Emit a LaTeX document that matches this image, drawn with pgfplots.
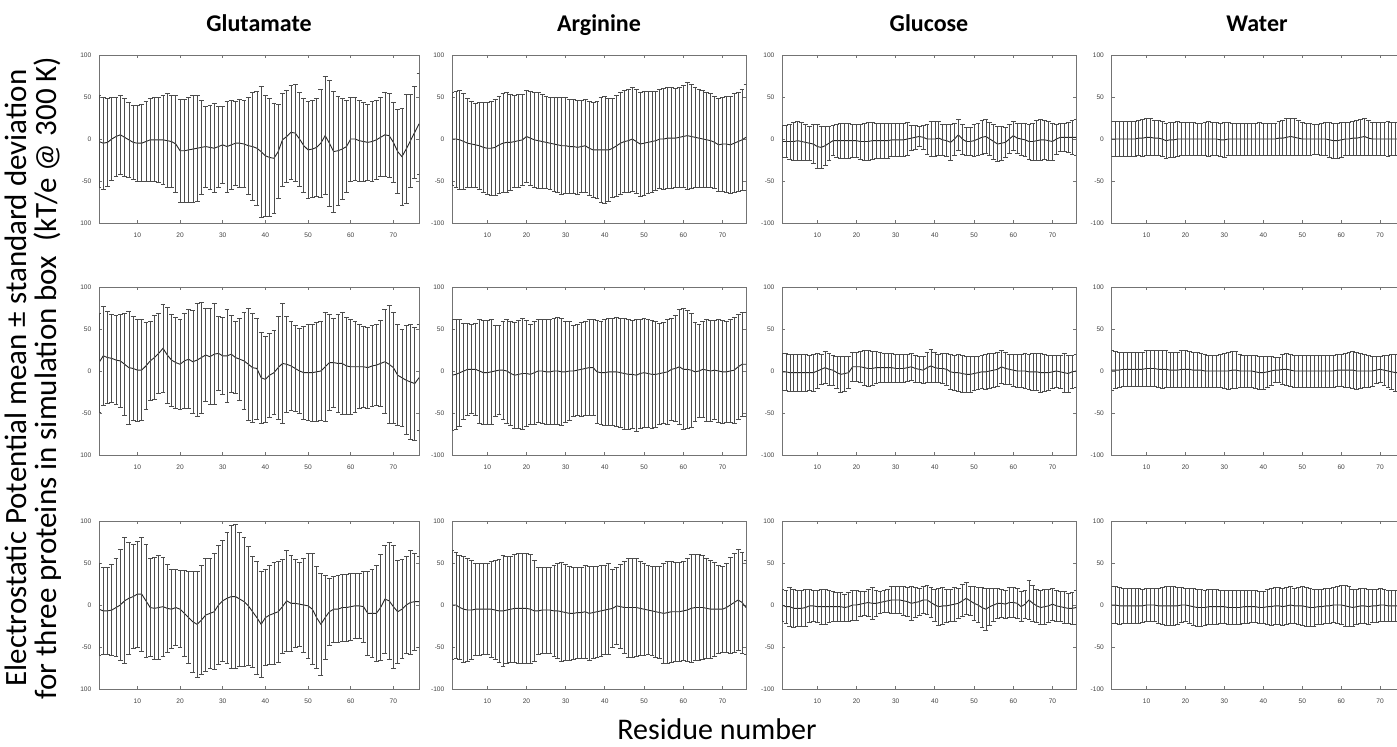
\documentclass[border=0pt]{standalone}
\usepackage{pgfplots}
\pgfplotsset{compat=1.18}
\usepackage{pgfplotstable}
\usepackage{fontspec}
\setmainfont{Carlito}
\newfontfamily\tickfont{Liberation Sans}

\pgfplotstableread[row sep=\\]{x m s\\
1 -3 55\\2 -5 55\\3 -4 52\\4 0 49\\5 3 47\\6 5 47\\7 2 46\\8 -1 45\\9 -4 44\\10 -5 45\\
11 -5 46\\12 -3 48\\13 -1 49\\14 -1 50\\15 -1 51\\16 -1 53\\17 -2 56\\18 -3 55\\19 -6 58\\20 -14 61\\
21 -14 61\\22 -13 62\\23 -12 64\\24 -11 63\\25 -10 56\\26 -9 48\\27 -10 50\\28 -11 53\\29 -9 48\\30 -7 46\\
31 -9 54\\32 -7 53\\33 -5 50\\34 -5 52\\35 -6 52\\36 -8 58\\37 -9 64\\38 -11 68\\39 -15 78\\40 -20 72\\
41 -22 70\\42 -23 65\\43 -15 56\\44 -1 55\\45 3 55\\46 8 56\\47 7 58\\48 0 56\\49 -8 56\\50 -13 58\\
51 -12 58\\52 -10 58\\53 -5 64\\54 4 70\\55 -5 75\\56 -15 72\\57 -14 65\\58 -12 60\\59 -9 55\\60 0 50\\
61 0 49\\62 -2 48\\63 -3 47\\64 -4 45\\65 -3 48\\66 -1 47\\67 2 47\\68 5 50\\69 4 50\\70 -4 48\\
71 -15 50\\72 -21 58\\73 -12 65\\74 -2 55\\75 8 55\\76 18 60\\
}\GA
\pgfplotstableread[row sep=\\]{x m s\\
1 0 55\\2 0 57\\3 -1 59\\4 -3 57\\5 -5 53\\6 -6 51\\7 -7 50\\8 -8 52\\9 -10 54\\10 -11 55\\
11 -11 56\\12 -10 57\\13 -7 58\\14 -5 59\\15 -4 59\\16 -4 57\\17 -3 55\\18 -2 55\\19 -1 54\\20 3 55\\
21 1 56\\22 -1 57\\23 -2 57\\24 -3 56\\25 -4 55\\26 -5 55\\27 -6 56\\28 -7 57\\29 -8 58\\30 -8 57\\
31 -9 56\\32 -9 56\\33 -10 56\\34 -9 55\\35 -8 55\\36 -11 56\\37 -13 57\\38 -13 58\\39 -13 62\\40 -13 64\\
41 -13 61\\42 -11 59\\43 -8 60\\44 -5 61\\45 -3 61\\46 -2 61\\47 0 62\\48 -3 62\\49 -6 62\\50 -5 62\\
51 -4 61\\52 -3 60\\53 -2 59\\54 0 59\\55 0 60\\56 1 60\\57 1 60\\58 1 59\\59 2 59\\60 3 61\\
61 4 64\\62 3 62\\63 2 60\\64 1 58\\65 0 58\\66 -1 57\\67 -2 56\\68 -4 55\\69 -7 55\\70 -6 56\\
71 -6 57\\72 -7 58\\73 -5 59\\74 -3 59\\75 -1 60\\76 2 63\\
}\AA
\pgfplotstableread[row sep=\\]{x m s\\
1 -3 19\\2 -3 19\\3 -3 21\\4 -3 23\\5 -2 23\\6 -3 23\\7 -4 21\\8 -5 20\\9 -6 23\\10 -9 26\\
11 -10 25\\12 -8 23\\13 -5 20\\14 -2 18\\15 -2 20\\16 -2 21\\17 -2 21\\18 -2 21\\19 -2 20\\20 -2 20\\
21 -3 21\\22 -3 22\\23 -3 23\\24 -2 22\\25 -2 21\\26 -2 21\\27 -2 21\\28 -2 21\\29 -1 20\\30 -1 20\\
31 -1 20\\32 -1 20\\33 0 20\\34 1 15\\35 2 14\\36 3 12\\37 2 14\\38 0 18\\39 0 21\\40 0 21\\
41 1 20\\42 -1 18\\43 -2 19\\44 -4 21\\45 0 19\\46 5 18\\47 0 18\\48 -3 17\\49 -3 17\\50 -2 19\\
51 0 19\\52 2 20\\53 3 20\\54 0 20\\55 -3 21\\56 -6 21\\57 -5 20\\58 -4 18\\59 0 17\\60 4 17\\
61 1 18\\62 0 19\\63 -1 20\\64 -3 21\\65 -3 22\\66 -2 24\\67 -1 24\\68 -1 23\\69 -2 23\\70 -3 22\\
71 0 18\\72 2 17\\73 2 17\\74 2 18\\75 2 20\\76 2 21\\
}\CA
\pgfplotstableread[row sep=\\]{x m s\\
1 0 21\\2 0 21\\3 0 21\\4 0 21\\5 0 21\\6 0 21\\7 0 21\\8 1 21\\9 1 22\\10 2 22\\
11 2 22\\12 1 21\\13 1 21\\14 0 21\\15 -2 21\\16 -1 21\\17 -1 21\\18 0 21\\19 0 20\\20 0 20\\
21 0 20\\22 0 20\\23 0 19\\24 0 19\\25 0 20\\26 0 21\\27 0 20\\28 0 20\\29 -1 20\\30 -1 21\\
31 0 20\\32 0 19\\33 0 19\\34 0 19\\35 0 19\\36 0 19\\37 0 19\\38 0 19\\39 0 20\\40 0 19\\
41 0 19\\42 0 19\\43 0 19\\44 1 20\\45 1 21\\46 2 22\\47 3 22\\48 2 22\\49 1 21\\50 0 20\\
51 0 19\\52 0 19\\53 0 18\\54 0 18\\55 0 19\\56 0 20\\57 -1 21\\58 -2 21\\59 -2 21\\60 -1 21\\
61 0 20\\62 0 20\\63 1 20\\64 1 21\\65 2 21\\66 3 22\\67 1 21\\68 0 20\\69 0 20\\70 0 20\\
71 0 20\\72 0 21\\73 0 20\\74 0 20\\75 0 20\\76 -1 21\\
}\WA
\pgfplotstableread[row sep=\\]{x m s\\
1 10 59\\2 18 59\\3 16 55\\4 15 52\\5 13 53\\6 12 55\\7 8 61\\8 4 67\\9 3 62\\10 1 61\\
11 1 60\\12 6 52\\13 12 47\\14 16 50\\15 21 48\\16 27 52\\17 19 57\\18 13 55\\19 10 54\\20 8 54\\
21 12 57\\22 14 59\\23 11 61\\24 13 67\\25 16 66\\26 19 55\\27 17 57\\28 20 60\\29 21 44\\30 18 46\\
31 18 55\\32 20 46\\33 16 43\\34 14 49\\35 12 58\\36 8 67\\37 4 65\\38 3 60\\39 -8 54\\40 -10 51\\
41 -5 50\\42 -2 50\\43 4 61\\44 9 71\\45 8 57\\46 6 53\\47 3 51\\48 0 51\\49 -2 55\\50 -2 57\\
51 -2 58\\52 -1 59\\53 0 59\\54 5 65\\55 10 57\\56 10 53\\57 9 58\\58 9 61\\59 6 58\\60 5 57\\
61 5 54\\62 5 50\\63 5 48\\64 4 48\\65 6 48\\66 7 48\\67 9 51\\68 11 62\\69 8 70\\70 4 66\\
71 -5 60\\72 -8 58\\73 -11 65\\74 -13 68\\75 -15 67\\76 -8 63\\
}\GB
\pgfplotstableread[row sep=\\]{x m s\\
1 -5 66\\2 -4 65\\3 -2 64\\4 0 57\\5 2 55\\6 2 53\\7 2 55\\8 0 62\\9 -2 62\\10 -2 62\\
11 -1 62\\12 0 54\\13 1 53\\14 1 58\\15 0 62\\16 -3 62\\17 -5 63\\18 -4 64\\19 -3 66\\20 -3 63\\
21 -4 59\\22 -2 61\\23 0 61\\24 0 62\\25 -1 62\\26 -1 62\\27 0 63\\28 0 64\\29 -1 64\\30 -1 60\\
31 0 59\\32 0 54\\33 1 54\\34 2 56\\35 3 56\\36 4 57\\37 4 57\\38 -1 61\\39 -2 61\\40 -2 63\\
41 -1 64\\42 -1 64\\43 -1 65\\44 -2 65\\45 -3 66\\46 -4 66\\47 -4 64\\48 -5 67\\49 -3 65\\50 -2 65\\
51 -3 64\\52 -4 64\\53 -4 63\\54 -3 60\\55 -2 60\\56 -1 62\\57 2 61\\58 3 63\\59 5 68\\60 2 72\\
61 2 70\\62 1 68\\63 -1 59\\64 0 55\\65 2 57\\66 1 61\\67 0 60\\68 1 59\\69 0 61\\70 -1 61\\
71 -1 60\\72 0 61\\73 1 63\\74 5 63\\75 8 62\\76 8 62\\
}\AB
\pgfplotstableread[row sep=\\]{x m s\\
1 -1 22\\2 -1 22\\3 -2 22\\4 -2 22\\5 -2 22\\6 -2 22\\7 -2 22\\8 -2 21\\9 -2 22\\10 0 21\\
11 2 18\\12 4 19\\13 2 19\\14 1 18\\15 -2 19\\16 -4 21\\17 -3 21\\18 -2 19\\19 5 17\\20 5 17\\
21 5 18\\22 4 21\\23 3 21\\24 3 20\\25 4 19\\26 4 18\\27 4 17\\28 4 17\\29 4 17\\30 3 17\\
31 3 17\\32 3 17\\33 4 16\\34 5 16\\35 3 16\\36 2 16\\37 1 16\\38 4 18\\39 6 20\\40 4 18\\
41 3 17\\42 3 18\\43 2 19\\44 -1 21\\45 -2 21\\46 -2 22\\47 -3 22\\48 -4 22\\49 -4 21\\50 -3 20\\
51 -2 20\\52 -1 20\\53 -1 21\\54 0 21\\55 1 20\\56 2 20\\57 5 20\\58 3 19\\59 2 18\\60 1 19\\
61 0 20\\62 0 20\\63 0 21\\64 -1 21\\65 -1 22\\66 -1 22\\67 -2 23\\68 -2 22\\69 -2 21\\70 -1 20\\
71 0 19\\72 -1 20\\73 -2 23\\74 -3 22\\75 -1 20\\76 0 20\\
}\CB
\pgfplotstableread[row sep=\\]{x m s\\
1 1 24\\2 1 22\\3 1 21\\4 2 20\\5 2 20\\6 2 20\\7 2 20\\8 2 20\\9 2 20\\10 3 21\\
11 3 21\\12 3 21\\13 2 22\\14 2 23\\15 2 22\\16 1 21\\17 1 21\\18 1 21\\19 2 22\\20 2 22\\
21 2 21\\22 1 21\\23 1 21\\24 1 20\\25 0 20\\26 0 19\\27 0 19\\28 0 19\\29 0 20\\30 0 21\\
31 0 22\\32 1 22\\33 1 22\\34 0 20\\35 0 19\\36 0 19\\37 0 19\\38 -1 20\\39 -2 20\\40 -2 20\\
41 -1 19\\42 0 17\\43 1 15\\44 1 15\\45 2 18\\46 2 19\\47 1 19\\48 0 19\\49 0 19\\50 0 19\\
51 0 19\\52 0 19\\53 0 19\\54 0 19\\55 0 19\\56 0 19\\57 0 19\\58 0 19\\59 1 19\\60 1 19\\
61 1 20\\62 1 21\\63 1 22\\64 0 22\\65 0 21\\66 0 20\\67 0 19\\68 0 18\\69 1 16\\70 2 16\\
71 1 18\\72 0 19\\73 -1 21\\74 -2 22\\75 -2 22\\76 -3 21\\
}\WB
\pgfplotstableread[row sep=\\]{x m s\\
1 -5 55\\2 -7 52\\3 -7 52\\4 -6 54\\5 -3 58\\6 0 66\\7 5 75\\8 8 67\\9 10 62\\10 13 63\\
11 13 68\\12 5 67\\13 -3 58\\14 -4 61\\15 -3 62\\16 -2 59\\17 -4 52\\18 -5 47\\19 -3 45\\20 -5 46\\
21 -10 51\\22 -15 55\\23 -20 60\\24 -23 63\\25 -18 65\\26 -12 67\\27 -10 65\\28 -8 69\\29 0 71\\30 5 72\\
31 8 78\\32 10 85\\33 10 86\\34 7 80\\35 4 77\\36 -1 71\\37 -8 66\\38 -15 67\\39 -23 63\\40 -15 57\\
41 -12 59\\42 -10 61\\43 -8 60\\44 -2 56\\45 5 60\\46 2 57\\47 2 52\\48 1 50\\49 0 56\\50 -1 63\\
51 -5 66\\52 -15 61\\53 -23 61\\54 -15 50\\55 -8 40\\56 -5 39\\57 -5 40\\58 -3 40\\59 -3 40\\60 -2 40\\
61 -1 39\\62 -1 39\\63 -2 42\\64 -10 50\\65 -10 52\\66 -10 57\\67 -3 63\\68 7 64\\69 5 70\\70 -2 73\\
71 -8 61\\72 -5 59\\73 0 58\\74 3 62\\75 4 58\\76 4 54\\
}\GC
\pgfplotstableread[row sep=\\]{x m s\\
1 0 65\\2 0 63\\3 -3 62\\4 -5 63\\5 -6 61\\6 -6 59\\7 -5 55\\8 -5 55\\9 -5 54\\10 -5 54\\
11 -5 57\\12 -6 59\\13 -7 61\\14 -7 66\\15 -6 64\\16 -5 63\\17 -4 64\\18 -4 65\\19 -4 65\\20 -4 66\\
21 -5 65\\22 -7 60\\23 -7 52\\24 -6 51\\25 -6 51\\26 -6 51\\27 -7 54\\28 -7 56\\29 -8 59\\30 -9 57\\
31 -10 56\\32 -10 55\\33 -9 54\\34 -9 54\\35 -8 55\\36 -10 56\\37 -9 55\\38 -8 54\\39 -7 54\\40 -6 53\\
41 -5 54\\42 -4 47\\43 -1 46\\44 -2 50\\45 -3 55\\46 -3 59\\47 -3 59\\48 -3 58\\49 -4 56\\50 -5 55\\
51 -6 53\\52 -7 53\\53 -8 54\\54 -9 55\\55 -10 59\\56 -9 61\\57 -8 60\\58 -8 59\\59 -8 59\\60 -7 59\\
61 -6 61\\62 -4 64\\63 -3 63\\64 -3 63\\65 -3 62\\66 -4 60\\67 -5 58\\68 -5 56\\69 -5 52\\70 -5 51\\
71 -3 53\\72 0 57\\73 3 59\\74 6 60\\75 3 60\\76 -3 56\\
}\AC
\pgfplotstableread[row sep=\\]{x m s\\
1 0 19\\2 -2 20\\3 -2 23\\4 -4 23\\5 -4 22\\6 -4 21\\7 -3 22\\8 -1 20\\9 -1 19\\10 -2 19\\
11 -2 21\\12 -2 21\\13 -2 19\\14 -2 18\\15 -2 17\\16 -2 17\\17 -3 16\\18 -2 17\\19 0 18\\20 0 18\\
21 1 15\\22 2 14\\23 3 16\\24 2 19\\25 2 16\\26 3 13\\27 4 13\\28 5 14\\29 6 16\\30 6 16\\
31 6 16\\32 5 17\\33 4 17\\34 2 20\\35 3 18\\36 4 16\\37 6 16\\38 6 17\\39 3 18\\40 0 19\\
41 -2 22\\42 -1 22\\43 -1 20\\44 0 19\\45 1 20\\46 2 18\\47 5 19\\48 8 19\\49 5 17\\50 2 20\\
51 0 21\\52 -3 24\\53 -5 25\\54 -2 22\\55 0 20\\56 2 18\\57 2 17\\58 1 17\\59 3 18\\60 3 18\\
61 2 18\\62 -2 18\\63 1 17\\64 6 23\\65 2 21\\66 -1 20\\67 -3 20\\68 -2 21\\69 -1 20\\70 1 19\\
71 -1 19\\72 -2 18\\73 -3 19\\74 -4 18\\75 -4 19\\76 -3 20\\
}\CC
\pgfplotstableread[row sep=\\]{x m s\\
1 0 22\\2 0 22\\3 -1 22\\4 -1 21\\5 -1 21\\6 -1 21\\7 -1 21\\8 -1 21\\9 -1 20\\10 0 20\\
11 0 20\\12 0 20\\13 -1 21\\14 -1 22\\15 -1 23\\16 -1 23\\17 -1 23\\18 -1 22\\19 0 21\\20 0 20\\
21 -1 21\\22 -2 22\\23 -3 22\\24 -3 22\\25 -3 21\\26 -2 21\\27 -2 21\\28 -2 21\\29 -2 20\\30 -2 20\\
31 -3 20\\32 -3 20\\33 -3 20\\34 -3 20\\35 -2 20\\36 -2 20\\37 -2 19\\38 -2 19\\39 -3 19\\40 -3 19\\
41 -2 21\\42 -2 22\\43 -1 22\\44 -1 22\\45 -2 22\\46 -1 22\\47 0 22\\48 -1 21\\49 -1 22\\50 -1 23\\
51 -2 23\\52 -3 23\\53 -3 22\\54 -2 21\\55 -2 21\\56 -1 21\\57 -1 21\\58 0 21\\59 0 22\\60 0 23\\
61 -1 24\\62 -2 24\\63 -3 22\\64 -2 21\\65 -1 21\\66 -1 21\\67 -2 21\\68 -1 20\\69 -1 20\\70 0 20\\
71 0 19\\72 -1 19\\73 -1 18\\74 -1 18\\75 -1 18\\76 -1 19\\
}\WC

\pgfplotsset{
  panel/.style={scale only axis, height=84pt, xmin=1, xmax=76, ymin=-100, ymax=100,
    xtick={10,20,...,70}, ytick={-100,-50,0,50,100},
    tick align=inside, major tick length=1.6pt,
    axis line style={black!55, line width=0.4pt},
    tick style={black!55, line width=0.4pt},
    tick label style={font=\tickfont\fontsize{3.3}{4}\selectfont, text=black!75},
    /pgf/number format/assume math mode=true,
    xticklabel style={yshift=-1.2pt}, yticklabel style={xshift=-0.3pt},
    anchor=north west},
  ep/.style={black!85, line width=0.45pt, mark=none,
    error bars/.cd, y dir=both, y explicit,
    error bar style={black!70, line width=0.35pt},
    error mark options={black!70, line width=0.35pt, mark size=1.2pt, rotate=90}},
}
\newcommand{\panelplot}[1]{\addplot[ep] table[x=x, y=m, y error=s]{#1};}

\begin{document}
\begin{tikzpicture}
% row 1
\begin{axis}[panel, width=160pt, at={(49.5pt,-27.5pt)}, yticklabels={100,-50,0,50,100}]
\panelplot{\GA}
\end{axis}
\begin{axis}[panel, width=147pt, at={(226pt,-27.5pt)}]
\panelplot{\AA}
\end{axis}
\begin{axis}[panel, width=147pt, at={(391pt,-27.5pt)}]
\panelplot{\CA}
\end{axis}
\begin{axis}[panel, width=146pt, at={(555.75pt,-27.5pt)}]
\panelplot{\WA}
\end{axis}
% row 2
\begin{axis}[panel, width=160pt, at={(49.5pt,-143.5pt)}, yticklabels={100,-50,0,50,100}]
\panelplot{\GB}
\end{axis}
\begin{axis}[panel, width=147pt, at={(226pt,-143.5pt)}]
\panelplot{\AB}
\end{axis}
\begin{axis}[panel, width=147pt, at={(391pt,-143.5pt)}]
\panelplot{\CB}
\end{axis}
\begin{axis}[panel, width=146pt, at={(555.75pt,-143.5pt)}]
\panelplot{\WB}
\end{axis}
% row 3
\begin{axis}[panel, width=160pt, at={(49.5pt,-260.5pt)}, yticklabels={100,-50,0,50,100}]
\panelplot{\GC}
\end{axis}
\begin{axis}[panel, width=147pt, at={(226pt,-260.5pt)}]
\panelplot{\AC}
\end{axis}
\begin{axis}[panel, width=147pt, at={(391pt,-260.5pt)}]
\panelplot{\CC}
\end{axis}
\begin{axis}[panel, width=146pt, at={(555.75pt,-260.5pt)}]
\panelplot{\WC}
\end{axis}
% titles
\begin{scope}[every node/.style={font=\bfseries\fontsize{12}{14}\selectfont, anchor=base}]
\node at (129.5pt,-16pt) {Glutamate};
\node at (299.5pt,-16pt) {Arginine};
\node at (464.5pt,-16pt) {Glucose};
\node at (628.5pt,-16pt) {Water};
\end{scope}
\node[rotate=90, anchor=base, font=\fontsize{15.5}{17}\selectfont] at (13pt,-189pt) {Electrostatic Potential mean ± standard deviation};
\node[rotate=90, anchor=base, font=\fontsize{15.5}{17}\selectfont] at (28pt,-189pt) {for three proteins in simulation box\ \ (kT/e @ 300 K)};
\node[anchor=base, inner sep=0pt, text depth=0pt, font=\fontsize{15}{17}\selectfont] at (358.5pt,-370pt) {Residue number};
\pgfresetboundingbox
\useasboundingbox (0,0) rectangle (698.5pt,-373.5pt);
\end{tikzpicture}
\end{document}
